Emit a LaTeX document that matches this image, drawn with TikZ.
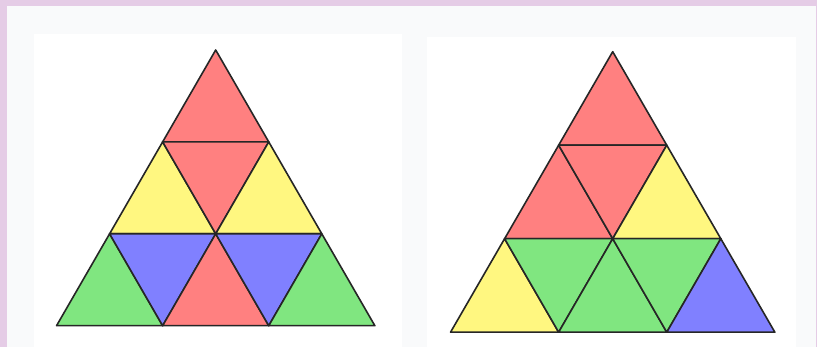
\documentclass[tikz,border=0pt]{standalone}
\definecolor{pinkbd}{RGB}{229,204,230}
\definecolor{graybg}{RGB}{249,250,251}
\definecolor{tred}{RGB}{255,128,128}
\definecolor{tyel}{RGB}{255,247,128}
\definecolor{tblu}{RGB}{128,128,255}
\definecolor{tgrn}{RGB}{128,230,128}
\newcommand{\uptri}[3]{\filldraw[tile,fill=#3] (#1,#2)--++(-.5,1)--++(1,0)--cycle;}
\newcommand{\dntri}[3]{\filldraw[tile,fill=#3] (#1,#2)--++(1,0)--++(-.5,1)--cycle;}
\begin{document}
\begin{tikzpicture}[x=1pt,y=-1pt,
  tile/.style={draw=black!85,line width=1.6pt,line join=round}]
\useasboundingbox (0,0) rectangle (817,347);
\fill[pinkbd] (0,0) rectangle (817,347);
\fill[graybg] (7,6) rectangle (815.5,347);
\fill[white] (34,34) rectangle (401.7,347);
\fill[white] (426.7,36.7) rectangle (796,347);
% left triangle
\begin{scope}[shift={(215.7,50)},x={(106.1pt,0pt)},y={(0pt,-91.9pt)}]
  \uptri{0}{0}{tred}
  \uptri{-.5}{1}{tyel}
  \dntri{-.5}{1}{tred}
  \uptri{.5}{1}{tyel}
  \uptri{-1}{2}{tgrn}
  \dntri{-1}{2}{tblu}
  \uptri{0}{2}{tred}
  \dntri{0}{2}{tblu}
  \uptri{1}{2}{tgrn}
\end{scope}
% right triangle
\begin{scope}[shift={(612.7,51.7)},x={(108.1pt,0pt)},y={(0pt,-93.5pt)}]
  \uptri{0}{0}{tred}
  \uptri{-.5}{1}{tred}
  \dntri{-.5}{1}{tred}
  \uptri{.5}{1}{tyel}
  \uptri{-1}{2}{tyel}
  \dntri{-1}{2}{tgrn}
  \uptri{0}{2}{tgrn}
  \dntri{0}{2}{tgrn}
  \uptri{1}{2}{tblu}
\end{scope}
\end{tikzpicture}
\end{document}
